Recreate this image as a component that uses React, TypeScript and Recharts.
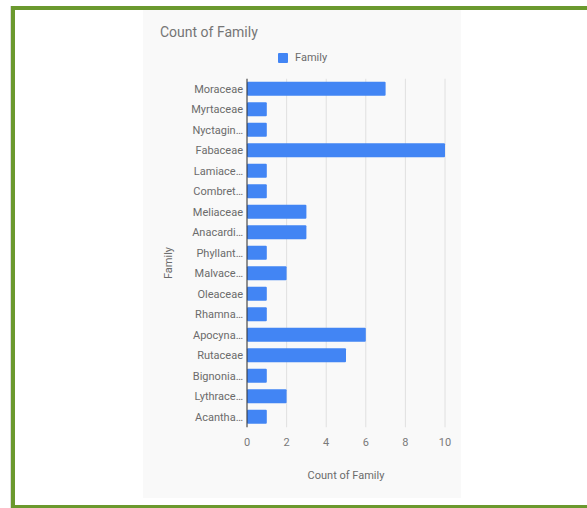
import React from 'react';
import { BarChart, Bar, XAxis, YAxis, CartesianGrid, Label } from 'recharts';

const families = [
  'Moraceae', 'Myrtaceae', 'Nyctagin…', 'Fabaceae', 'Lamiace…', 'Combret…',
  'Meliaceae', 'Anacardi…', 'Phyllant…', 'Malvace…', 'Oleaceae', 'Rhamna…',
  'Apocyna…', 'Rutaceae', 'Bignonia…', 'Lythrace…', 'Acantha…',
];
const counts = [7, 1, 1, 10, 1, 1, 3, 3, 1, 2, 1, 1, 6, 5, 1, 2, 1];
const xTicks = [0, 2, 4, 6, 8, 10];

const data = families.map((name, i) => ({ name, Family: counts[i] }));

const FONT = 'Roboto, "Noto Sans", Arial, sans-serif';
const BLUE = '#4285f4';
const GREEN = '#6b992e';

export default function App() {
  return (
    <div style={{ position: 'absolute', left: 0, top: 0, width: 587, height: 508, background: '#fff', overflow: 'hidden', fontFamily: FONT }}>
      <div style={{ position: 'absolute', left: 10, top: 6, width: 1, height: 502, background: '#dcdcdc' }} />
      <div style={{ position: 'absolute', left: 11, top: 6, width: 4, height: 502, background: GREEN }} />
      <div style={{ position: 'absolute', left: 11, top: 6, width: 576, height: 4, background: GREEN }} />
      <div style={{ position: 'absolute', left: 11, top: 505, width: 576, height: 3, background: GREEN }} />
      <div style={{ position: 'absolute', left: 143, top: 10, width: 318, height: 488, background: '#f9f9f9' }} />
      <div style={{ position: 'absolute', left: 160, top: 23, fontSize: 14, lineHeight: '18px', color: '#757575', whiteSpace: 'nowrap' }}>
        Count of Family
      </div>
      <div style={{ position: 'absolute', left: 278, top: 53, width: 10, height: 10, background: BLUE, borderRadius: 1 }} />
      <div style={{ position: 'absolute', left: 295, top: 51, fontSize: 11, lineHeight: '14px', color: '#6b6b6b', whiteSpace: 'nowrap' }}>
        Family
      </div>
      <div style={{ position: 'absolute', left: 0, top: 0 }}>
        <BarChart
          width={587}
          height={508}
          data={data}
          layout="vertical"
          margin={{ top: 78.75, right: 142, left: 167, bottom: 20.75 }}
          barCategoryGap={3.25}
        >
          <CartesianGrid horizontal={false} vertical stroke="#e0e0e0" />
          <XAxis
            type="number"
            domain={[0, 10]}
            ticks={xTicks}
            height={60}
            axisLine={false}
            tickLine={false}
            tickSize={0}
            tickMargin={11}
            tick={{ fill: '#7a7a7a', fontSize: 11, fontFamily: FONT }}
          >
            <Label value="Count of Family" position="insideBottom" offset={8} fill="#6b6b6b" fontSize={11} fontFamily={FONT} />
          </XAxis>
          <YAxis
            type="category"
            dataKey="name"
            width={80}
            axisLine={{ stroke: '#333' }}
            tickLine={false}
            tickSize={0}
            tickMargin={4}
            interval={0}
            tick={{ fill: '#6b6b6b', fontSize: 11, fontFamily: FONT }}
          >
            <Label value="Family" angle={-90} position="center" dx={-39} dy={10} fill="#6b6b6b" fontSize={11} fontFamily={FONT} />
          </YAxis>
          <Bar dataKey="Family" fill={BLUE} barSize={14} radius={1} isAnimationActive={false} />
        </BarChart>
      </div>
    </div>
  );
}
